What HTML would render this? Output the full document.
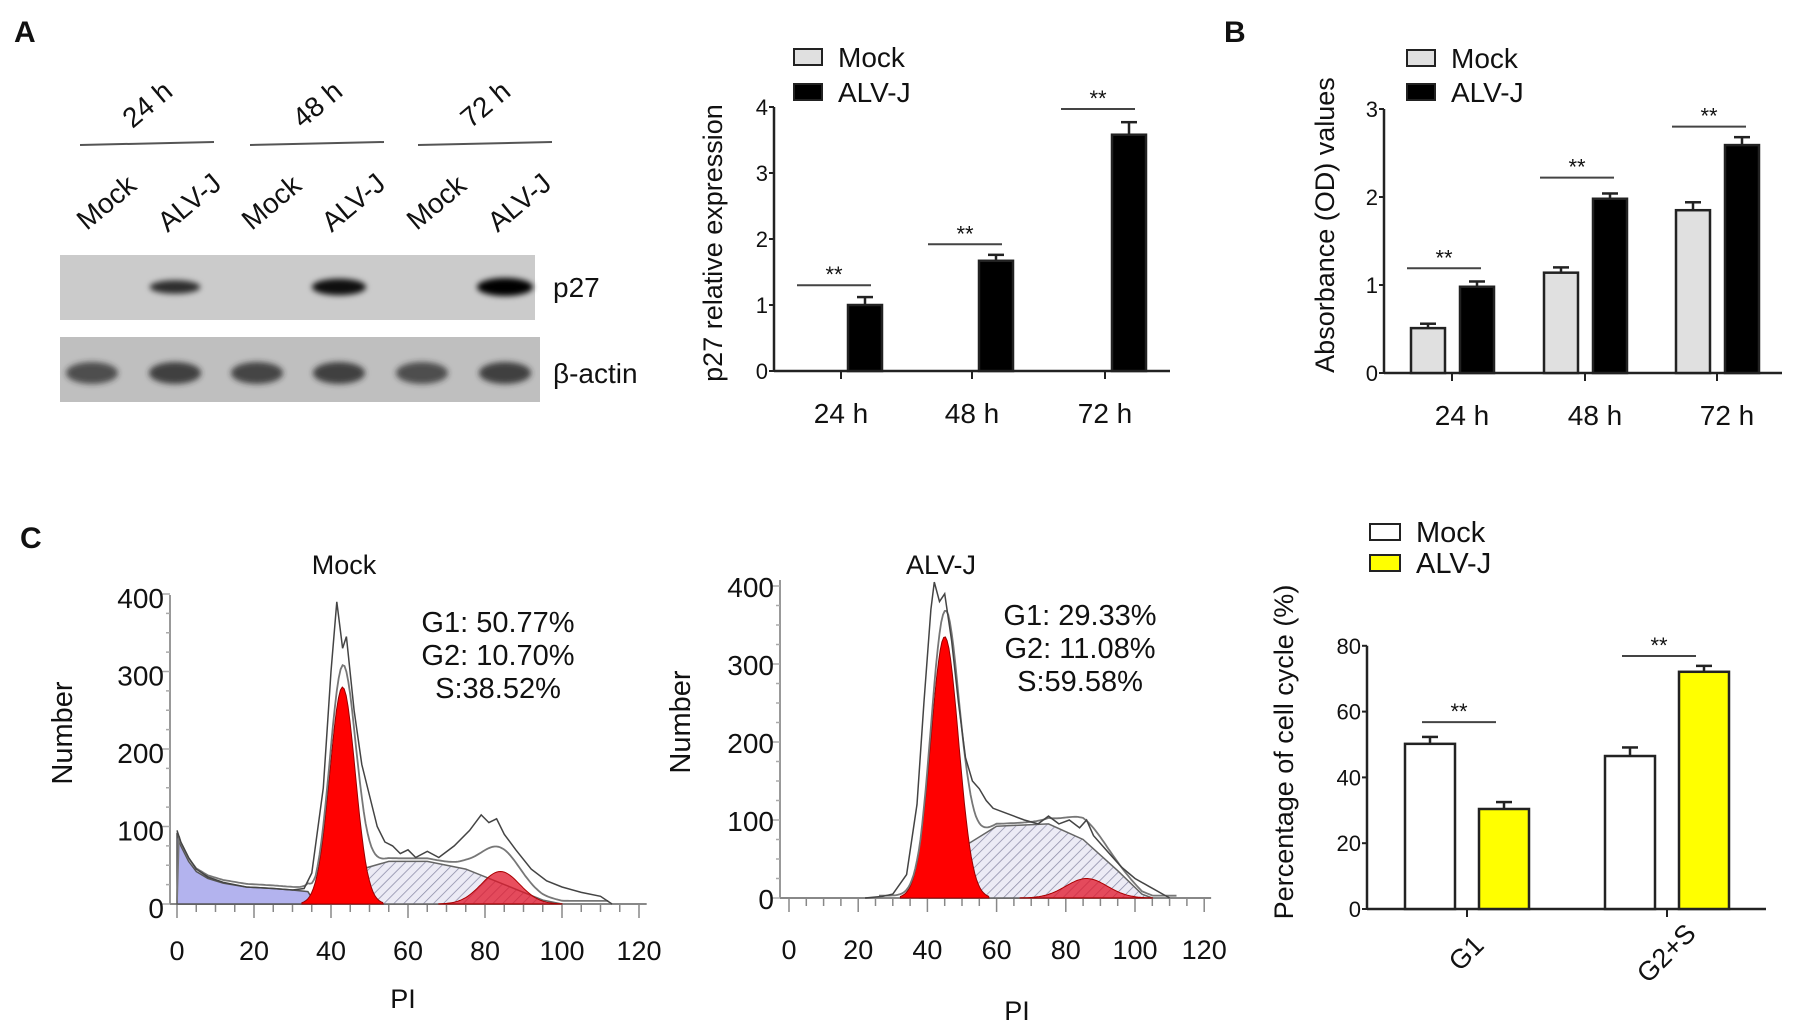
<!DOCTYPE html>
<html><head><meta charset="utf-8"><style>
body{margin:0;background:#fff}
svg{display:block}
text{font-family:"Liberation Sans",Arial,sans-serif;fill:#111}
.n{font-family:"Liberation Sans Narrow","Liberation Sans",sans-serif}
</style></head><body>
<svg id="fig" width="1795" height="1026" viewBox="0 0 1795 1026" xmlns="http://www.w3.org/2000/svg">
<defs>
<filter id="blur" x="-50%" y="-50%" width="200%" height="200%"><feGaussianBlur stdDeviation="3"/></filter>
<pattern id="hatch" width="7" height="7" patternUnits="userSpaceOnUse" patternTransform="rotate(45)">
<rect width="7" height="7" fill="#ecebf5"/><line x1="0" y1="0" x2="0" y2="7" stroke="#8a8aa6" stroke-width="1.5"/></pattern>
</defs>
<text x="14" y="42" font-size="30" font-weight="bold">A</text>
<text x="1224" y="42" font-size="30" font-weight="bold">B</text>
<text x="20" y="548" font-size="30" font-weight="bold">C</text>
<g id="blot"></g>
<g id="chartA"></g>
<g id="chartB"></g>
<g id="histM"></g>
<g id="histA"></g>
<g id="chartC"></g>
</svg>
<script>
// ---------- data ----------
const blotGroups=["24 h","48 h","72 h"];
const blotLanes=["Mock","ALV-J","Mock","ALV-J","Mock","ALV-J"];
const p27Intensity=[0,0.55,0,0.85,0,1.0];
const actinIntensity=[0.75,0.85,0.8,0.85,0.75,0.85];

const aCats=["24 h","48 h","72 h"];
const aMock=[0,0,0];
const aAlv=[1.0,1.67,3.58];
const aAlvErr=[0.12,0.09,0.19];
const aSig=[1.3,1.92,3.97];
const aTicks=[0,1,2,3,4];

const bCats=["24 h","48 h","72 h"];
const bMock=[0.51,1.14,1.85];
const bMockErr=[0.05,0.06,0.09];
const bAlv=[0.98,1.98,2.59];
const bAlvErr=[0.06,0.06,0.09];
const bSig=[1.19,2.22,2.8];
const bTicks=[0,1,2,3];

const cCats=["G1","G2+S"];
const cMock=[50.2,46.5];
const cMockErr=[2.1,2.6];
const cAlv=[30.4,72.1];
const cAlvErr=[2.1,1.8];
const cSig=[56.8,76.9];
const cTicks=[0,20,40,60,80];

const histXTicks=[0,20,40,60,80,100,120];
const histYTicks=[0,100,200,300,400];
const mockStats=["G1: 50.77%","G2: 10.70%","S:38.52%"];
const alvStats=["G1: 29.33%","G2: 11.08%","S:59.58%"];
const mockDebris=[[0,92],[1,75],[3,55],[5,42],[8,33],[12,27],[18,22],[25,20],[30,18],[34,16],[36,0]];
const mockG1=[43,3.3,280];
const mockG2=[84,5,42];
const mockS=[[35,0],[42,20],[48,45],[55,55],[65,55],[75,45],[85,25],[95,5],[100,0]];
const mockRaw=[[0,95],[1,80],[3,60],[5,45],[8,35],[12,28],[18,22],[25,20],[30,18],[33,20],[35,40],[38,150],[40,300],[41.5,390],[43,330],[44,345],[46,250],[48,180],[50,140],[52,100],[54,80],[56,75],[58,65],[60,70],[62,60],[65,68],[68,60],[72,75],[76,95],[79,115],[81,105],[83,110],[85,90],[88,70],[92,45],[96,30],[100,22],[105,15],[110,10],[113,0]];
const alvG1=[45,4,335];
const alvG2=[86,6,25];
const alvS=[[38,0],[45,30],[52,70],[60,92],[75,95],[85,75],[95,35],[102,5],[105,0]];
const alvRaw=[[22,0],[27,2],[30,5],[34,30],[37,120],[39,250],[41,370],[42,405],[43.5,380],[45,390],[47,330],[49,250],[51,180],[53,150],[55,140],[57,125],[59,115],[62,110],[65,105],[68,100],[72,95],[75,105],[78,95],[81,100],[84,90],[86,100],[88,80],[92,60],[96,40],[100,25],[104,15],[108,5],[110,0]];

// ---------- helpers ----------
const NS="http://www.w3.org/2000/svg";
function mk(parent,tag,attrs,txt){const e=document.createElementNS(NS,tag);for(const k in attrs)e.setAttribute(k,attrs[k]);if(txt!==undefined)e.textContent=txt;parent.appendChild(e);return e;}

// ---------- blot ----------
(function(){
const g=document.getElementById('blot');
const laneX=[92,175,257,339,422,505];
const r1=mk(g,'rect',{x:60,y:255,width:475,height:65,fill:'#cbcbcb'});


const r2=mk(g,'rect',{x:60,y:337,width:480,height:65,fill:'#bfbfbf'});


const grpX=[147,317,485];
blotGroups.forEach((t,i)=>{
  const l=mk(g,'line',{x1:grpX[i]-67,y1:145,x2:grpX[i]+67,y2:142,stroke:'#555','stroke-width':2});
  
  
  const tx=mk(g,'text',{x:grpX[i],y:114,'font-size':28,'text-anchor':'middle',class:'n',transform:`rotate(-40 ${grpX[i]} 104)`},t);
  
  
});
blotLanes.forEach((t,i)=>{
  const x=laneX[i]+14;
  const tx=mk(g,'text',{x:x,y:212,'font-size':28,'text-anchor':'middle',transform:`rotate(-40 ${x} 202)`},t);
  
  
  if(p27Intensity[i]>0){
    const w=22+p27Intensity[i]*6, h=4+p27Intensity[i]*5;
    const b=mk(g,'ellipse',{cx:laneX[i],cy:287,rx:w,ry:h,fill:`rgba(0,0,0,${0.5+p27Intensity[i]*0.5})`,filter:'url(#blur)'});
    
    
  }
  const a=mk(g,'ellipse',{cx:laneX[i],cy:373,rx:26,ry:11,fill:`rgba(40,40,40,${actinIntensity[i]})`,filter:'url(#blur)'});
  
  
});
const t1=mk(g,'text',{x:553,y:297,'font-size':28,class:'n'},'p27');


const t2=mk(g,'text',{x:553,y:383,'font-size':28,class:'n'},'β-actin');


})();

// ---------- bar chart ----------
function barChart(gid,o){
  const g=document.getElementById(gid);
  const y=v=>o.y0-v*o.unit;
  [['Mock',o.mockFill],['ALV-J',o.alvFill]].forEach((L,i)=>{
    const r=mk(g,'rect',{x:o.lx,y:o.ly[i]-8,width:o.lw,height:16,fill:L[1],stroke:'#222','stroke-width':2});
    
    
    const t=mk(g,'text',{x:o.lx+o.lw+16,y:o.ly[i]+10,'font-size':o.lfs,class:o.lcls},L[0]);
    
    
  });
  const ya=mk(g,'line',{x1:o.ax,y1:y(o.ticks[o.ticks.length-1]),x2:o.ax,y2:o.y0,stroke:'#222','stroke-width':2.5});
  
  
  const xa=mk(g,'line',{x1:o.ax,y1:o.y0,x2:o.xend,y2:o.y0,stroke:'#222','stroke-width':2.5});
  
  
  o.ticks.forEach(t=>{
    mk(g,'line',{x1:o.ax-5,y1:y(t),x2:o.ax,y2:y(t),stroke:'#222','stroke-width':2});
    const tx=mk(g,'text',{x:o.ax-6,y:y(t)+8,'font-size':o.tfs,'text-anchor':'end',class:'n'},t);
    
    
  });
  const yl=mk(g,'text',{x:o.ylx,y:o.yly,'font-size':27,'text-anchor':'middle',transform:`rotate(-90 ${o.ylx} ${o.yly})`},o.ylabel);
  
  
  o.cats.forEach((c,i)=>{
    const cx=o.cx[i];
    mk(g,'line',{x1:cx,y1:o.y0,x2:cx,y2:o.y0+8,stroke:'#222','stroke-width':2});
    let tx;
    if(o.rot){tx=mk(g,'text',{x:cx,y:o.xly,'font-size':27,'text-anchor':'middle',transform:`rotate(-45 ${cx} ${o.xly-8})`},c);}
    else tx=mk(g,'text',{x:cx+o.xlo,y:o.xly,'font-size':28,'text-anchor':'middle',class:'n'},c);
    
    
    const bars=[[o.mock[i],o.mockErr?o.mockErr[i]:0,o.mx0,o.mockFill,'mock'],[o.alv[i],o.alvErr[i],o.ax0,o.alvFill,'alvj']];
    bars.forEach(B=>{
      if(B[0]<=0)return;
      const x0=cx+B[2];
      const e=mk(g,'line',{x1:x0+o.bw/2,y1:y(B[0]),x2:x0+o.bw/2,y2:y(B[0]+B[1]),stroke:'#222','stroke-width':2.5});
      
      
      const cap=mk(g,'line',{x1:x0+o.bw/2-8,y1:y(B[0]+B[1]),x2:x0+o.bw/2+8,y2:y(B[0]+B[1]),stroke:'#222','stroke-width':2.5});
      
      
      const r=mk(g,'rect',{x:x0,y:y(B[0]),width:o.bw,height:o.y0-y(B[0]),fill:B[3],stroke:'#222','stroke-width':2.5});
      
      
    });
    const sy=y(o.sig[i]);
    const sl=mk(g,'line',{x1:cx+o.s0,y1:sy,x2:cx+o.s1,y2:sy,stroke:'#444','stroke-width':2});
    
    
    const st=mk(g,'text',{x:cx+(o.s0+o.s1)/2,y:sy-3,'font-size':22,'text-anchor':'middle'},'**');
    
    
  });
}
barChart('chartA',{y0:371,unit:66,ax:774,xend:1170,cats:aCats,cx:[841,972,1105],mock:aMock,alv:aAlv,alvErr:aAlvErr,sig:aSig,ticks:aTicks,
  mx0:-41,ax0:7,bw:34,mockFill:'#e0e0e0',alvFill:'#000',lx:794,ly:[57,92],lw:28,lfs:28,lcls:'n',tfs:22,ylx:722,yly:243,ylabel:'p27 relative expression',xly:423,xlo:0,s0:-44,s1:30});
barChart('chartB',{y0:373,unit:88,ax:1384,xend:1782,cats:bCats,cx:[1452,1585,1717],mock:bMock,mockErr:bMockErr,alv:bAlv,alvErr:bAlvErr,sig:bSig,ticks:bTicks,
  mx0:-41,ax0:8,bw:34,mockFill:'#e0e0e0',alvFill:'#000',lx:1407,ly:[58,92],lw:28,lfs:28,lcls:'n',tfs:22,ylx:1334,yly:225,ylabel:'Absorbance (OD) values',xly:425,xlo:10,s0:-45,s1:29});
barChart('chartC',{y0:909,unit:3.29,ax:1367,xend:1766,cats:cCats,cx:[1467,1667],mock:cMock,mockErr:cMockErr,alv:cAlv,alvErr:cAlvErr,sig:cSig,ticks:cTicks,
  mx0:-62,ax0:12,bw:50,mockFill:'#fff',alvFill:'#ffff00',lx:1370,ly:[532,563],lw:30,lfs:29,lcls:'',tfs:22,ylx:1293,yly:752,ylabel:'Percentage of cell cycle (%)',xly:962,rot:true,s0:-45,s1:29});

// ---------- histograms ----------
function gauss(p,x){return p[2]*Math.exp(-0.5*Math.pow((x-p[0])/p[1],2));}
function interp(pts,x){if(x<=pts[0][0]||x>=pts[pts.length-1][0])return 0;for(let i=1;i<pts.length;i++){if(x<=pts[i][0]){const a=pts[i-1],b=pts[i];return a[1]+(b[1]-a[1])*(x-a[0])/(b[0]-a[0]);}}return 0;}
function hist(gid,o){
  const g=document.getElementById(gid);
  const X=v=>o.x0+v*o.xs, Y=v=>o.base-v*o.ys;
  const t=mk(g,'text',{x:o.tx,y:574,'font-size':27,'text-anchor':'middle',class:'n'},o.title);
  
  
  o.stats.forEach((s,i)=>{const e=mk(g,'text',{x:o.sx,y:o.sy+i*33,'font-size':29,'text-anchor':'middle',class:'n'},s);
    
    });
  const nl=mk(g,'text',{x:o.nx,y:o.ny,'font-size':29,'text-anchor':'middle',transform:`rotate(-90 ${o.nx} ${o.ny})`},'Number');
  
  
  const pl=mk(g,'text',{x:o.px,y:o.py,'font-size':27,'text-anchor':'middle',class:'n'},'PI');
  
  
  const ya=mk(g,'line',{x1:o.ax,y1:o.atop,x2:o.ax,y2:o.base,stroke:'#999','stroke-width':2});
  
  
  const xa=mk(g,'line',{x1:o.ax,y1:o.base,x2:X(122),y2:o.base,stroke:'#888','stroke-width':2});
  
  
  for(let v=0;v<=400;v+=25){mk(g,'line',{x1:o.ax-(v%100?4:8),y1:Y(v),x2:o.ax,y2:Y(v),stroke:'#aaa','stroke-width':1.5});}
  for(let v=0;v<=120;v+=5){mk(g,'line',{x1:X(v),y1:o.base,x2:X(v),y2:o.base+(v%20?8:14),stroke:'#888','stroke-width':1.5});}
  histYTicks.forEach(v=>{const e=mk(g,'text',{x:o.ax-6,y:Y(v)+o.lo,'font-size':28,'text-anchor':'end',class:'n'},v);
    
    });
  histXTicks.forEach(v=>{const e=mk(g,'text',{x:X(v),y:o.xly,'font-size':27,'text-anchor':'middle',class:'n'},v);
    
    });
  const poly=(pts,close)=>pts.map((p,i)=>(i?'L':'M')+X(p[0]).toFixed(1)+' '+Y(p[1]).toFixed(1)).join(' ')+(close?' Z':'');
  if(o.debris){const d=mk(g,'path',{d:poly([[0,0]].concat(o.debris),true),fill:'#b3b3ee',stroke:'#555','stroke-width':1.5});
    
    }
  const s=mk(g,'path',{d:poly(o.S,true),fill:'url(#hatch)',stroke:'#666','stroke-width':1.5});
  
  
  const gp=(p)=>{const pts=[];for(let x=p[0]-3.2*p[1];x<=p[0]+3.2*p[1];x+=0.5)pts.push([x,gauss(p,x)]);pts.unshift([p[0]-3.2*p[1],0]);pts.push([p[0]+3.2*p[1],0]);return pts;};
  const g2=mk(g,'path',{d:poly(gp(o.G2),true),fill:'rgba(225,20,40,0.75)',stroke:'#a00','stroke-width':1});
  
  
  const g1=mk(g,'path',{d:poly(gp(o.G1),true),fill:'#f00',stroke:'#900','stroke-width':1});
  
  
  const fit=[];for(let x=o.fitFrom;x<=112;x+=0.5){fit.push([x,gauss(o.G1,x)+gauss(o.G2,x)+interp(o.S,x)+(o.debris?interp(o.debris,x):0)+o.fitFloor]);}
  const f=mk(g,'path',{d:poly(fit),fill:'none',stroke:'#777','stroke-width':1.8});
  
  
  const r=mk(g,'path',{d:poly(o.raw),fill:'none',stroke:'#444','stroke-width':1.5});
  
  
}
hist('histM',{x0:177,xs:3.85,base:904,ys:0.775,ax:170,atop:595,lo:14,xly:960,title:'Mock',tx:344,stats:mockStats,sx:498,sy:632,nx:72,ny:733,px:403,py:1008,
  debris:mockDebris,S:mockS,G1:mockG1,G2:mockG2,raw:mockRaw,fitFrom:0,fitFloor:4});
hist('histA',{x0:789,xs:3.46,base:898,ys:0.78,ax:780,atop:580,lo:11,xly:959,title:'ALV-J',tx:941,stats:alvStats,sx:1080,sy:625,nx:690,ny:722,px:1017,py:1020,
  S:alvS,G1:alvG1,G2:alvG2,raw:alvRaw,fitFrom:26,fitFloor:3});
</script>
</body></html>
